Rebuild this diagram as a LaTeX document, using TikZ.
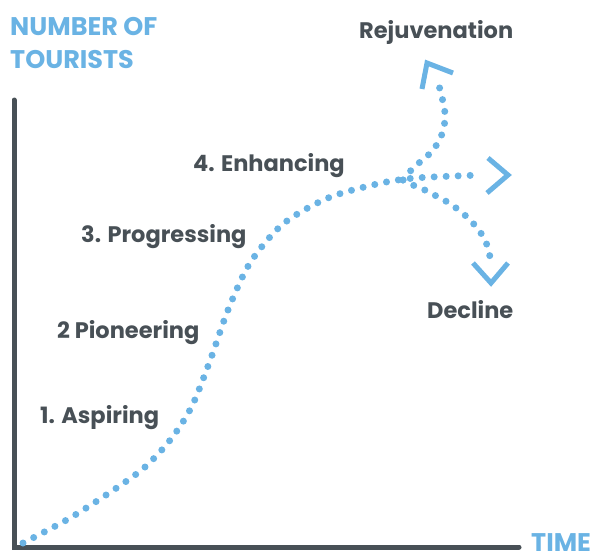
\documentclass[tikz,border=0pt]{standalone}
\usepackage{fontspec}
\setmainfont{Poppins}
\definecolor{skyblue}{RGB}{106,179,228}
\definecolor{slate}{RGB}{72,80,86}
\tikzset{dotty/.style={skyblue,line width=7pt,line cap=round,dash pattern=on 0pt off 12pt},
         chev/.style={skyblue,line width=5pt,miter limit=10},
         axisline/.style={slate,line width=5pt,line cap=round},
         stage/.style={slate,font=\bfseries\fontsize{22.5}{26}\selectfont,anchor=base west,inner sep=0pt},
         axislabel/.style={skyblue,font=\bfseries\fontsize{25.5}{30}\selectfont,anchor=base west,inner sep=0pt}}

\begin{document}
\begin{tikzpicture}[x=1pt,y=-1pt]
                  \useasboundingbox (0,0) rectangle (594,552);
                  \draw[axisline] (14,100) -- (14,547) -- (519,547);
                  \node[axislabel] (ylab1) at (10,35) {NUMBER OF};
                  \node[axislabel] (ylab2) at (10,68) {TOURISTS};
                  \node[axislabel] (xlab) at (531,551) {TIME};
                  \draw[dotty] plot[smooth] coordinates {(23,543) (70,518) (115,489) (145,467) (171,439) (192,406) (211,358) (228,310) (250,263) (283,224) (328,198) (377,184) (415,178) (482,175)};
                  \draw[dotty] plot[smooth] coordinates {(403,180) (414,167) (424,159) (433,150) (440,139) (444,127) (445,114) (443,102) (440,89) (435,77)};
                  \draw[dotty] plot[smooth] coordinates {(403,180) (415,186) (427,191) (438,197) (449,203) (460,211) (469,219) (478,229) (485,240) (489,252) (491,264)};
                  \draw[chev] (453,73) -- (427,63) -- (422,89);
                  \draw[chev] (488,158) -- (508,175) -- (487,193);
                  \draw[chev] (473,263) -- (491,283) -- (508,263);
                  \node[stage] (rejuv) at (359,38) {Rejuvenation};
                  \node[stage] (enhance) at (193,171) {4. Enhancing};
                  \node[stage] (progress) at (81,242) {3. Progressing};
                  \node[stage] (pioneer) at (57,338) {2 Pioneering};
                  \node[stage] (aspire) at (40,423) {1. Aspiring};
                  \node[stage] (decline) at (427,318) {Decline};
              \end{tikzpicture}
\end{document}
